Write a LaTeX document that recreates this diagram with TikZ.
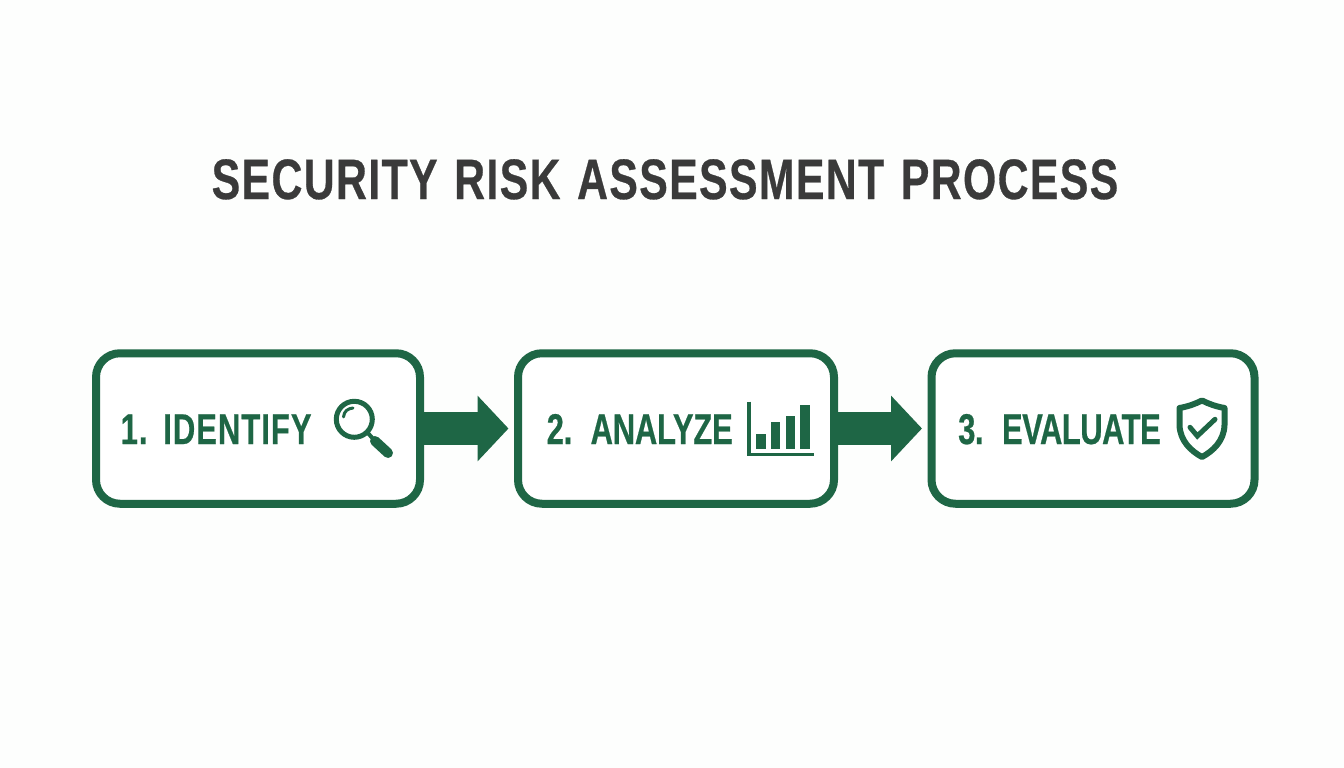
\documentclass[tikz,border=0pt]{standalone}
\usepackage{fontspec}
\usetikzlibrary{arrows.meta}
\newfontfamily\titlefont[FakeStretch=0.75,LetterSpace=2.45,WordSpace=1.25,BoldFeatures={FakeBold=0.5}]{Liberation Sans}
\newfontfamily\labelfonta[FakeStretch=0.72,LetterSpace=2.4,WordSpace=1.3,BoldFeatures={FakeBold=0.5}]{Liberation Sans}
\newfontfamily\labelfontb[FakeStretch=0.72,LetterSpace=-0.5,WordSpace=1.85,BoldFeatures={FakeBold=0.5}]{Liberation Sans}
\newfontfamily\labelfontc[FakeStretch=0.72,LetterSpace=-1.2,WordSpace=1.96,BoldFeatures={FakeBold=0.5}]{Liberation Sans}
\definecolor{bggreen}{HTML}{1E6645}
\definecolor{titlegrey}{HTML}{3A3A3A}
\definecolor{paper}{HTML}{FDFEFD}
\tikzset{
  stepbox/.style={draw=bggreen,line width=8pt,rounded corners=24pt,fill=white,minimum height=150.5pt,inner sep=0pt,outer sep=0pt},
  steplabel/.style={text=bggreen,inner sep=0pt,anchor=base west},
  titletext/.style={text=titlegrey,font=\titlefont\bfseries\fontsize{57pt}{57pt}\selectfont,inner sep=0pt,anchor=base},
  flow/.style={draw=bggreen,line width=33.4pt,-{Triangle[length=31pt,width=64pt,color=bggreen]},shorten >=9.5pt},
  icon/.style={draw=bggreen,fill=none}
}
\begin{document}
\begin{tikzpicture}[x=1pt,y=-1pt]
\useasboundingbox[fill=paper] (0,0) rectangle (1344,768);
\node[titletext] (title) at (665,199) {SECURITY RISK ASSESSMENT PROCESS};
\node[stepbox,minimum width=324pt] (b1) at (258,428.5) {};
\node[stepbox,minimum width=316pt] (b2) at (676,428.5) {};
\node[stepbox,minimum width=323pt] (b3) at (1093,428.5) {};
\draw[flow] (b1.east) -- (b2.west);
\draw[flow] (b2.east) -- (b3.west);
\node[steplabel,font=\labelfonta\bfseries\fontsize{43pt}{43pt}\selectfont] (l1) at (120.5,444) {1. IDENTIFY};
\node[steplabel,font=\labelfontb\bfseries\fontsize{43pt}{43pt}\selectfont] (l2) at (546.5,444) {2. ANALYZE};
\node[steplabel,font=\labelfontc\bfseries\fontsize{43pt}{43pt}\selectfont] (l3) at (958,444) {3. EVALUATE};
% magnifier
\draw[icon,line width=5pt] (354.3,419.3) circle (18pt);
\draw[icon,line width=3pt,line cap=round] (343.5,417) .. controls (344,411) and (348,408.5) .. (353,408);
\draw[icon,line width=4pt] (367,432) -- (375,441);
\draw[icon,line width=10pt,line cap=round] (375,441) -- (388,453);
% chart
\draw[icon,line width=3.5pt] (749,401.7) -- (749,454.3) -- (814,454.3);
\fill[bggreen] (755.7,434.3) rectangle (765.7,449.3);
\fill[bggreen] (770.7,421.7) rectangle (780.3,449.3);
\fill[bggreen] (785.7,416.3) rectangle (795.3,449.3);
\fill[bggreen] (800,405) rectangle (810,449.3);
% shield
\draw[icon,line width=6pt,line join=round] (1202,400.5) .. controls (1209,404) and (1216,406.5) .. (1224.5,408) -- (1224.5,425) .. controls (1224,441) and (1213,451) .. (1202,457) .. controls (1191,451) and (1180,441) .. (1179.5,425) -- (1179.5,408) .. controls (1188,406.5) and (1195,404) .. (1202,400.5) -- cycle;
\draw[icon,line width=5pt,line cap=round,line join=miter] (1190,427.3) -- (1197.3,436) -- (1215,419.3);
\end{tikzpicture}
\end{document}
